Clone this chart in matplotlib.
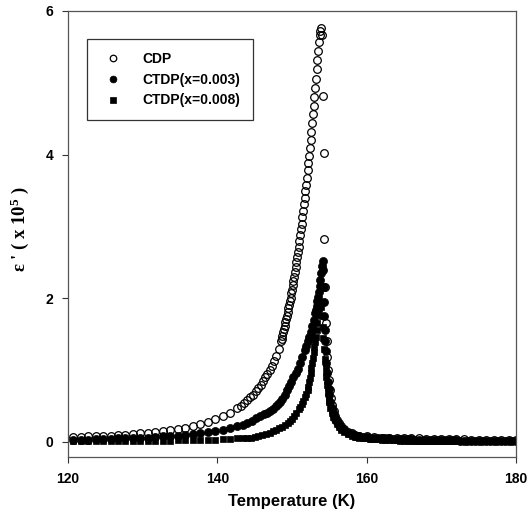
import matplotlib
matplotlib.use('Agg')
import matplotlib.pyplot as plt

# Dielectric constant (x 10^5) versus temperature
t_cdp = [120.7, 121.7, 122.7, 123.7, 124.7, 125.7, 126.7, 127.7, 128.7, 129.7,
         130.7, 131.7, 132.7, 133.7, 134.7, 135.7, 136.7, 137.7, 138.7, 139.7,
         140.7, 141.7, 142.7, 143.2, 143.6, 144.0, 144.4, 144.8, 145.2, 145.5,
         145.8, 146.1, 146.4, 146.7, 147.0, 147.3, 147.6, 147.9, 148.2,
         148.5, 148.6, 148.7, 148.8, 148.9, 149.0, 149.1, 149.2, 149.3, 149.4,
         149.5, 149.6, 149.7, 149.8, 149.9, 150.0, 150.1, 150.2, 150.3, 150.4,
         150.5, 150.6, 150.7, 150.8, 150.9, 151.0, 151.1, 151.2, 151.3, 151.4,
         151.5, 151.6, 151.7, 151.8, 151.9, 152.0, 152.1, 152.2, 152.3, 152.4,
         152.5, 152.6, 152.7, 152.8, 152.9, 153.0, 153.1, 153.2, 153.3, 153.4,
         153.5, 153.6, 153.7, 153.8, 153.9, 154.0, 154.2, 154.25, 154.35,
         154.45, 154.55, 154.65, 154.75, 154.85, 154.95, 155.1, 155.25, 155.4,
         155.6, 155.8, 156.0, 156.3, 156.6, 157.0, 157.5, 158.0, 158.5, 159.0,
         160.0, 161.0, 162.0, 163.0, 164.0, 165.0, 166.0, 167.0, 168.0, 169.0,
         170.0, 171.0, 172.0, 173.0, 174.0, 175.0, 176.0, 177.0, 178.0, 179.0,
         180.0]
e_cdp = [0.07, 0.07, 0.08, 0.08, 0.09, 0.09, 0.10, 0.10, 0.11, 0.12,
         0.13, 0.14, 0.15, 0.17, 0.18, 0.20, 0.22, 0.25, 0.28, 0.32,
         0.36, 0.41, 0.47, 0.50, 0.54, 0.58, 0.62, 0.66, 0.71, 0.75,
         0.80, 0.85, 0.90, 0.95, 1.00, 1.06, 1.13, 1.20, 1.29,
         1.40, 1.44, 1.48, 1.53, 1.57, 1.62, 1.67, 1.71, 1.76, 1.81,
         1.86, 1.91, 1.96, 2.01, 2.07, 2.12, 2.18, 2.24, 2.30, 2.37,
         2.44, 2.51, 2.58, 2.65, 2.72, 2.80, 2.88, 2.96, 3.04, 3.13,
         3.22, 3.31, 3.40, 3.49, 3.58, 3.68, 3.78, 3.88, 3.98, 4.09,
         4.20, 4.32, 4.44, 4.56, 4.68, 4.80, 4.93, 5.06, 5.19, 5.32,
         5.45, 5.57, 5.67, 5.72, 5.76, 5.66, 4.82, 4.03, 2.83,
         2.16, 1.66, 1.40, 1.18, 1.00, 0.86, 0.72, 0.61, 0.52,
         0.43, 0.36, 0.31, 0.26, 0.22, 0.18, 0.14, 0.12, 0.10, 0.09,
         0.08, 0.07, 0.06, 0.06, 0.05, 0.05, 0.05, 0.05, 0.04, 0.04,
         0.04, 0.04, 0.04, 0.04, 0.03, 0.03, 0.03, 0.03, 0.03, 0.03,
         0.03]

t_003 = [120.7, 121.7, 122.7, 123.7, 124.7, 125.7, 126.7, 127.7, 128.7, 129.7,
         130.7, 131.7, 132.7, 133.7, 134.7, 135.7, 136.7, 137.7, 138.7, 139.7,
         140.7, 141.7, 142.7, 143.4, 144.0, 144.6, 145.2, 145.7, 146.2, 146.6,
         147.0, 147.4, 147.8, 148.1, 148.4, 148.7, 149.0, 149.3, 149.6, 149.9,
         150.2, 150.5, 150.8, 151.1, 151.4, 151.7, 151.9, 152.1, 152.3, 152.5,
         152.7, 152.9, 153.1, 153.2, 153.3, 153.4, 153.5, 153.6, 153.7, 153.8,
         153.9, 154.0, 154.1, 154.2, 154.25, 154.3, 154.35, 154.4, 154.45,
         154.5, 154.6, 154.7, 154.8, 154.9, 155.0, 155.15, 155.3, 155.45,
         155.6, 155.8, 156.0, 156.3, 156.6, 157.0, 157.5, 158.0, 158.5, 159.0,
         159.5, 160.0, 160.5, 161.0, 161.5, 162.0, 162.5, 163.0, 163.5, 164.0,
         164.5, 165.0, 165.5, 166.0, 166.5, 167.0, 167.5, 168.0, 168.5, 169.0,
         169.5, 170.0, 170.5, 171.0, 171.5, 172.0, 172.5, 173.0, 173.5, 174.0,
         174.5, 175.0, 175.5, 176.0, 176.5, 177.0, 177.5, 178.0, 178.5, 179.0,
         179.5, 180.0]
e_003 = [0.03, 0.03, 0.03, 0.04, 0.04, 0.04, 0.05, 0.05, 0.05, 0.06,
         0.06, 0.07, 0.08, 0.08, 0.09, 0.10, 0.11, 0.12, 0.14, 0.15,
         0.17, 0.19, 0.22, 0.24, 0.26, 0.29, 0.33, 0.36, 0.39, 0.41,
         0.43, 0.46, 0.50, 0.53, 0.56, 0.60, 0.66, 0.72, 0.78, 0.84,
         0.90, 0.96, 1.02, 1.10, 1.19, 1.28, 1.34, 1.40, 1.46, 1.53,
         1.61, 1.70, 1.79, 1.84, 1.90, 1.96, 2.02, 2.09, 2.17, 2.26,
         2.35, 2.45, 2.52, 2.40, 2.16, 1.95, 1.75, 1.56, 1.40,
         1.26, 1.10, 0.96, 0.84, 0.74, 0.65, 0.56, 0.48, 0.42,
         0.37, 0.32, 0.28, 0.23, 0.19, 0.16, 0.13, 0.11, 0.09, 0.08,
         0.07, 0.07, 0.06, 0.06, 0.05, 0.05, 0.05, 0.05, 0.04, 0.04,
         0.04, 0.04, 0.04, 0.04, 0.03, 0.03, 0.03, 0.03, 0.03, 0.03,
         0.03, 0.03, 0.03, 0.03, 0.03, 0.03, 0.02, 0.02, 0.02, 0.02,
         0.02, 0.02, 0.02, 0.02, 0.02, 0.02, 0.02, 0.02, 0.02, 0.02,
         0.02, 0.02]

t_008 = [120.7, 121.7, 122.7, 123.7, 124.7, 125.7, 126.7, 127.7, 128.7, 129.7,
         130.7, 131.7, 132.7, 133.7, 134.7, 135.7, 136.7, 137.7, 138.7, 139.7,
         140.7, 141.7, 142.7, 143.5, 144.0, 144.5, 145.0, 145.5, 146.0, 146.5,
         147.0, 147.4, 147.8, 148.2, 148.6, 149.0, 149.4, 149.7, 150.0, 150.3,
         150.6, 150.9, 151.1, 151.3, 151.5, 151.7, 151.9, 152.1, 152.2, 152.3,
         152.4, 152.5, 152.6, 152.7, 152.8, 152.9, 153.0, 153.1, 153.2, 153.3,
         153.4, 153.5, 153.6, 153.7, 153.8, 153.9, 154.0, 154.1, 154.2, 154.3,
         154.4, 154.5, 154.6, 154.7, 154.8, 154.9, 155.0, 155.15, 155.3, 155.5,
         155.7, 156.0, 156.3, 156.6, 157.0, 157.5, 158.0, 158.5, 159.0, 159.5,
         160.0, 160.5, 161.0, 161.5, 162.0, 162.5, 163.0, 163.5, 164.0, 164.5,
         165.0, 165.5, 166.0, 166.5, 167.0, 167.5, 168.0, 168.5, 169.0, 169.5,
         170.0, 170.5, 171.0, 171.5, 172.0, 172.5, 173.0, 173.5, 174.0, 174.5,
         175.0, 175.5, 176.0, 176.5, 177.0, 177.5, 178.0, 178.5, 179.0, 179.5,
         180.0]
e_008 = [0.01, 0.01, 0.01, 0.01, 0.01, 0.01, 0.02, 0.02, 0.02, 0.02,
         0.02, 0.02, 0.02, 0.02, 0.03, 0.03, 0.03, 0.03, 0.03, 0.03,
         0.04, 0.04, 0.05, 0.05, 0.06, 0.06, 0.07, 0.08, 0.10, 0.11,
         0.13, 0.15, 0.17, 0.19, 0.21, 0.23, 0.26, 0.29, 0.32, 0.36,
         0.41, 0.46, 0.49, 0.53, 0.57, 0.62, 0.67, 0.72, 0.77, 0.83,
         0.89, 0.96, 1.03, 1.10, 1.17, 1.25, 1.32, 1.39, 1.46, 1.56,
         1.66, 1.77, 1.85, 1.92, 1.95, 1.88, 1.75, 1.60, 1.45, 1.30,
         1.16, 1.03, 0.91, 0.80, 0.70, 0.62, 0.55, 0.47, 0.41, 0.35,
         0.30, 0.25, 0.21, 0.17, 0.14, 0.11, 0.09, 0.07, 0.06, 0.05,
         0.05, 0.04, 0.04, 0.04, 0.03, 0.03, 0.03, 0.03, 0.03, 0.02,
         0.02, 0.02, 0.02, 0.02, 0.02, 0.02, 0.02, 0.02, 0.02, 0.02,
         0.01, 0.01, 0.01, 0.01, 0.01, 0.01, 0.01, 0.01, 0.01, 0.01,
         0.01, 0.01, 0.01, 0.01, 0.01, 0.01, 0.01, 0.01, 0.01, 0.01,
         0.01]

x_ticks = [120, 140, 160, 180]
y_ticks = [0, 2, 4, 6]

plt.rcParams['font.family'] = ['Liberation Sans', 'DejaVu Sans']
plt.rcParams['font.weight'] = 'bold'
plt.rcParams['mathtext.fontset'] = 'custom'
plt.rcParams['mathtext.rm'] = 'Liberation Serif:bold'
plt.rcParams['mathtext.it'] = 'Liberation Serif:bold'
plt.rcParams['mathtext.bf'] = 'Liberation Serif:bold'

fig = plt.figure(figsize=(5.28, 5.26), dpi=100)
ax = fig.add_axes([68 / 528, 1 - 457 / 526, 448 / 528, 446 / 526])

ax.plot(t_cdp, e_cdp, 'o', ms=5.5, mfc='none', mec='black', mew=0.9, label='CDP')
ax.plot(t_003, e_003, 'o', ms=5.8, mfc='black', mec='black', mew=0.5, label='CTDP(x=0.003)')
ax.plot(t_008, e_008, 's', ms=5.0, mfc='black', mec='black', mew=0.5, label='CTDP(x=0.008)')

ax.set_xlim(120, 180)
ax.set_ylim(-0.209, 6)
ax.set_xticks(x_ticks)
ax.set_yticks(y_ticks)
ax.tick_params(direction='out', length=4.5, width=0.8, labelsize=10, pad=6, color='#333333')
for lab in ax.get_xticklabels() + ax.get_yticklabels():
    lab.set_fontweight('bold')
for sp in ax.spines.values():
    sp.set_color('#555555')
    sp.set_linewidth(0.9)

ax.set_xlabel('Temperature (K)', fontsize=12, fontweight='bold', labelpad=6)
ax.set_ylabel("ε ' ( x 10$^{5}$ )", fontsize=13.5, fontweight='bold',
              family='Liberation Serif')
ax.yaxis.set_label_coords(-0.082, 0.511)

leg = ax.legend(loc='upper left', bbox_to_anchor=(0.042, 0.937), borderaxespad=0,
                fancybox=False, frameon=True, edgecolor='black', fontsize=10,
                handlelength=2.0, handletextpad=1.1, borderpad=0.9,
                labelspacing=0.5, markerscale=0.85)
leg.get_frame().set_linewidth(0.9)
for txt in leg.get_texts():
    txt.set_fontweight('bold')

fig.savefig('out.png', dpi=100)
